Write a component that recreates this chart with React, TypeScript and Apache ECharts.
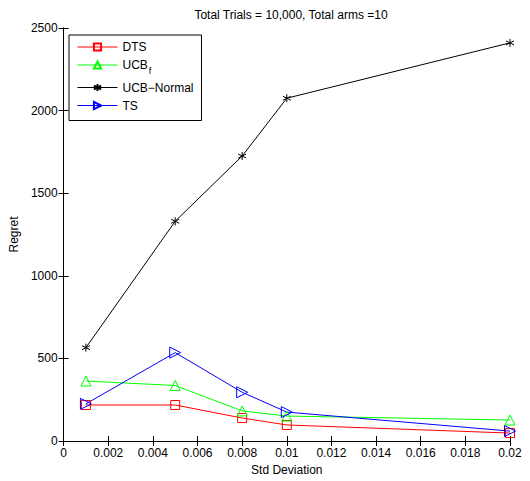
import React, { useEffect, useRef } from "react";
import * as echarts from "echarts";

const stdDev = [0.001, 0.005, 0.008, 0.01, 0.02];
const dts = [218, 218, 139, 97, 48];
const ucbF = [363, 336, 182, 151, 127];
const ucbNormal = [565, 1330, 1725, 2075, 2410];
const ts = [225, 535, 295, 175, 60];

const FONT = "Liberation Sans";
const ASTERISK = "path://M0,-5L0,5M-4.33,-2.5L4.33,2.5M-4.33,2.5L4.33,-2.5";

export default function App() {
  const ref = useRef<HTMLDivElement>(null);
  useEffect(() => {
    if (!ref.current) return;
    const chart = echarts.init(ref.current, null, { renderer: "svg" });
    const mk = (name: string, ys: number[], color: string, symbol: string, size: number, rotate = 0) => ({
      name,
      type: "line",
      data: stdDev.map((x, i) => [x, ys[i]]),
      symbol,
      symbolSize: size,
      symbolRotate: rotate,
      showAllSymbol: true,
      lineStyle: { color, width: 1 },
      itemStyle: { color: "rgba(255,255,255,0)", borderColor: color, borderWidth: 1 },
      emphasis: { disabled: true },
    });
    const axisCommon = {
      axisLine: { show: true, lineStyle: { color: "#000", width: 1 } },
      axisTick: { show: true, inside: true, length: 5, lineStyle: { color: "#000" } },
      splitLine: { show: false },
    };
    chart.setOption({
      animation: false,
      title: {
        text: "Total Trials = 10,000, Total arms =10",
        left: 286,
        top: 4,
        textAlign: "center",
        textStyle: { fontFamily: FONT, fontSize: 12, fontWeight: "normal", color: "#000" },
      },
      grid: { left: 62, top: 28, right: 20, bottom: 40 },
      legend: {
        orient: "vertical",
        left: 69,
        top: 35,
        backgroundColor: "#fff",
        borderColor: "#000",
        borderWidth: 1,
        borderRadius: 0,
        padding: [6, 8, 9, 8],
        itemWidth: 40,
        itemHeight: 9,
        itemGap: 6,
        lineStyle: { width: 1 },
        textStyle: {
          fontFamily: FONT,
          fontSize: 12,
          color: "#000",
          rich: {
            n: { fontFamily: FONT, fontSize: 12, color: "#000" },
            s: { fontFamily: FONT, fontSize: 9, color: "#000", padding: [12, 0, 0, 1] },
          },
        },
        formatter: (name: string) => (name === "UCBf" ? "{n|UCB}{s|f}" : name),
        data: ["DTS", "UCBf", "UCB\u2212Normal", "TS"],
      },
      xAxis: [
        {
          type: "value",
          min: 0,
          max: 0.02,
          interval: 0.002,
          name: "Std Deviation",
          nameLocation: "middle",
          nameGap: 21,
          nameTextStyle: { fontFamily: FONT, fontSize: 12, color: "#000" },
          axisLabel: {
            fontFamily: FONT,
            fontSize: 12,
            color: "#000",
            margin: 6,
            formatter: (v: number) => String(+v.toFixed(3)),
          },
          ...axisCommon,
        },
        {
          type: "value",
          position: "top",
          min: 0,
          max: 0.02,
          interval: 0.002,
          axisLabel: { show: false },
          ...axisCommon,
        },
      ],
      yAxis: [
        {
          type: "value",
          min: 0,
          max: 2500,
          interval: 500,
          name: "Regret",
          nameLocation: "middle",
          nameGap: 38,
          nameTextStyle: { fontFamily: FONT, fontSize: 12, color: "#000" },
          axisLabel: {
            fontFamily: FONT,
            fontSize: 12,
            color: "#000",
            margin: 6,
            formatter: (v: number) => String(v),
          },
          ...axisCommon,
        },
        {
          type: "value",
          position: "right",
          min: 0,
          max: 2500,
          interval: 500,
          axisLabel: { show: false },
          ...axisCommon,
        },
      ],
      series: [
        mk("DTS", dts, "#ff0000", "rect", 9),
        mk("UCBf", ucbF, "#00ff00", "triangle", 10),
        mk("UCB\u2212Normal", ucbNormal, "#000000", ASTERISK, 8),
        mk("TS", ts, "#0000ff", "triangle", 11, -90),
      ],
    });
    return () => chart.dispose();
  }, []);
  return (
    <div
      ref={ref}
      style={{ position: "absolute", left: 0, top: 0, width: 530, height: 481 }}
    />
  );
}
